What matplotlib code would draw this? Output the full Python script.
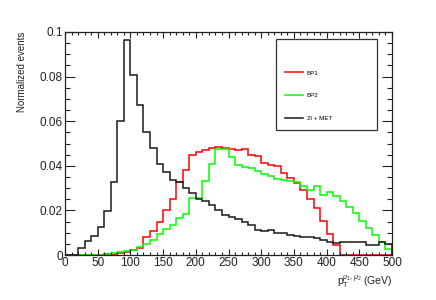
import numpy as np
import matplotlib
matplotlib.use('Agg')
import matplotlib.pyplot as plt
from matplotlib.lines import Line2D
from matplotlib.ticker import MultipleLocator, FuncFormatter

plt.rcParams['font.family'] = ['Liberation Sans', 'DejaVu Sans']
plt.rcParams['mathtext.fontset'] = 'custom'
plt.rcParams['mathtext.rm'] = 'Liberation Sans'
plt.rcParams['mathtext.it'] = 'Liberation Sans:italic'

# 50 bins of 10 GeV from 0 to 500
edges = np.arange(0, 510, 10)

bp1 = [0, 0, 0, 0, 0, 0.0001, 0.0003, 0.0005, 0.0009, 0.0015,
       0.0023, 0.0031, 0.0080, 0.0107, 0.0147, 0.0201, 0.0253, 0.0328, 0.0380, 0.0450,
       0.0462, 0.0470, 0.0480, 0.0483, 0.0478, 0.0474, 0.0472, 0.0474, 0.0450, 0.0443,
       0.0413, 0.0405, 0.0400, 0.0368, 0.0346, 0.0322, 0.0290, 0.0250, 0.0212, 0.0152,
       0.0095, 0.0045, 0, 0, 0, 0, 0, 0, 0, 0]

bp2 = [0, 0, 0, 0, 0, 0.0002, 0.0004, 0.0008, 0.0012, 0.0020,
       0.0024, 0.0038, 0.0050, 0.0068, 0.0095, 0.0115, 0.0136, 0.0164, 0.0185, 0.0254,
       0.0256, 0.0334, 0.0410, 0.0477, 0.0475, 0.0441, 0.0404, 0.0393, 0.0389, 0.0378,
       0.0364, 0.0356, 0.0339, 0.0338, 0.0334, 0.0326, 0.0308, 0.0292, 0.0310, 0.0267,
       0.0284, 0.0266, 0.0243, 0.0217, 0.0187, 0.0152, 0.0122, 0.0088, 0.0058, 0.0028]

bkg = [0, 0, 0.0032, 0.0062, 0.0084, 0.0125, 0.0196, 0.0328, 0.0601, 0.0963,
       0.0805, 0.0674, 0.0550, 0.0478, 0.0409, 0.0373, 0.0338, 0.0328, 0.0302, 0.0278,
       0.0250, 0.0240, 0.0222, 0.0200, 0.0178, 0.0172, 0.0163, 0.0148, 0.0135, 0.0112,
       0.0107, 0.0112, 0.0097, 0.0100, 0.0089, 0.0084, 0.0081, 0.0079, 0.0075, 0.0067,
       0.0060, 0.0052, 0.0058, 0.0058, 0.0059, 0.0060, 0.0045, 0.0045, 0.0060, 0.0050]

labels = ['BP1', 'BP2', '2l + MET']
colors = ['#ff0000', '#00ff00', '#1a1a1a']

fig = plt.figure(figsize=(4.36, 3.0), dpi=100)
ax = fig.add_axes([65/436, 45/300, 327/436, 223/300])

for vals, c in zip([bp1, bp2, bkg], colors):
    ax.stairs(vals, edges, baseline=0, color=c, lw=1.1)

ax.set_xlim(0, 500)
ax.set_ylim(0, 0.1)
ax.xaxis.set_major_locator(MultipleLocator(50))
ax.xaxis.set_minor_locator(MultipleLocator(10))
ax.yaxis.set_major_locator(MultipleLocator(0.02))
ax.yaxis.set_minor_locator(MultipleLocator(0.005))
ax.yaxis.set_major_formatter(FuncFormatter(lambda v, p: f'{v:g}'))

ax.tick_params(axis='both', which='both', direction='in', top=True, right=True,
               labelsize=8.5, colors='#222222', width=0.8)
ax.tick_params(axis='y', which='major', length=7.2, pad=1.5)
ax.tick_params(axis='y', which='minor', length=3.6)
ax.tick_params(axis='x', which='major', length=4.3, pad=1.5)
ax.tick_params(axis='x', which='minor', length=2.5)
for s in ax.spines.values():
    s.set_linewidth(0.9)
    s.set_color('#222222')

ax.set_ylabel('Normalized events', loc='top', fontsize=7, color='#222222')
ax.yaxis.set_label_coords(-38/327, 1.0)
ax.set_xlabel(r'$\mathrm{p}_{\mathrm{T}}^{\mu_1,\mu_2}$ (GeV)', loc='right',
              fontsize=7.5, color='#222222')
ax.xaxis.set_label_coords(1.0, -18/223)

handles = [Line2D([], [], color='none')] + [Line2D([], [], color=c, lw=1.1) for c in colors]
leg = ax.legend(handles, [' '] + labels, loc='upper left',
                bbox_to_anchor=(0.645, 0.5637, 0.309, 0.405), mode='expand',
                borderaxespad=0, fontsize=4.5, labelspacing=2.75, handlelength=2.9,
                handletextpad=0.65, borderpad=1.4, fancybox=False, framealpha=1,
                edgecolor='#333333')
leg.get_frame().set_linewidth(0.9)

fig.savefig('out.png', dpi=100)
